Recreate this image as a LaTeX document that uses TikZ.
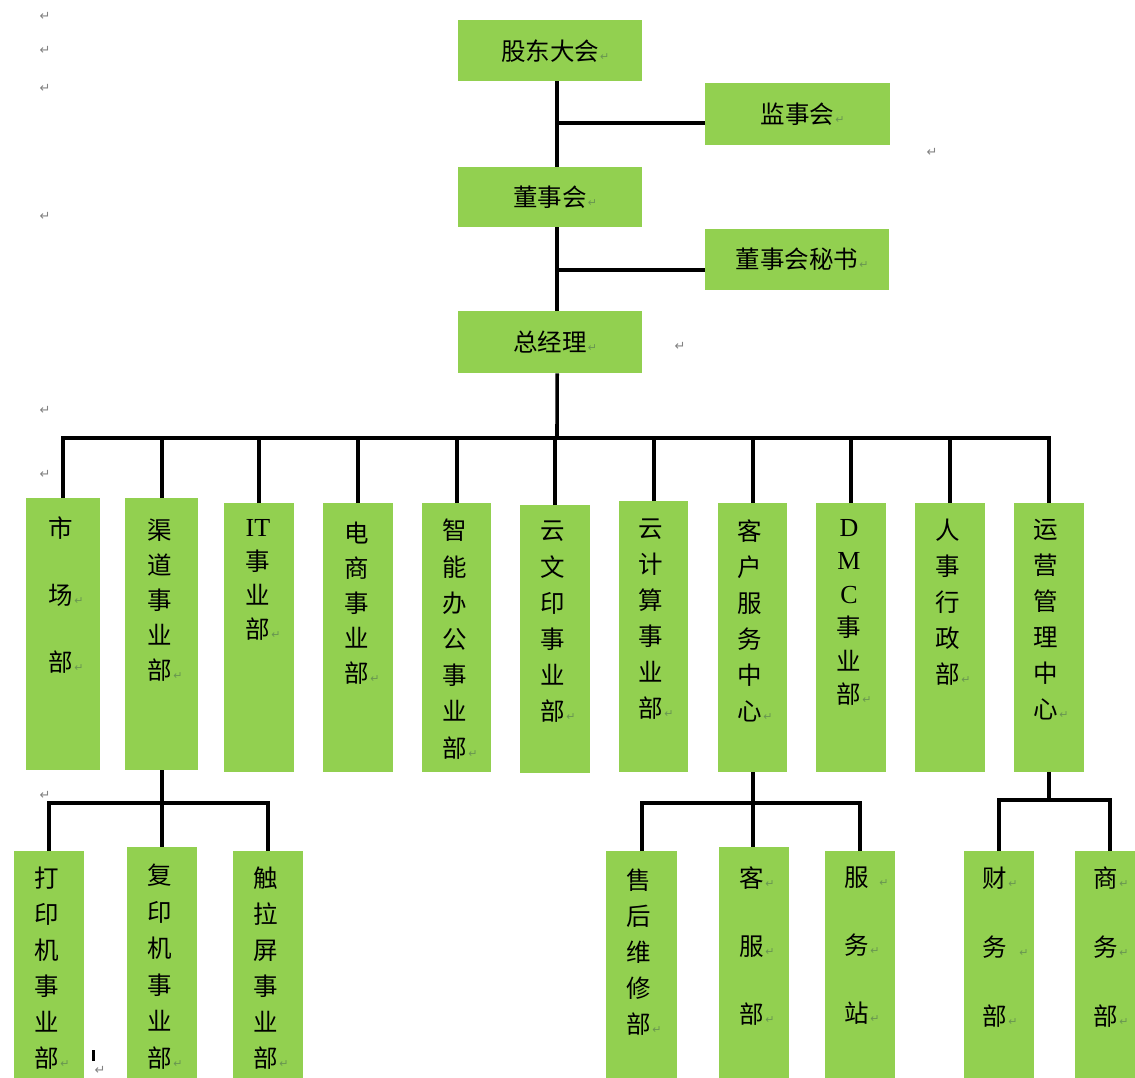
\documentclass[tikz,border=0pt]{standalone}
\usepackage{fontspec}
\setmainfont{Noto Sans CJK SC}
\newfontfamily\retfont{DejaVu Sans}
\newfontfamily\latfont{Liberation Serif}
\definecolor{boxgreen}{RGB}{146,208,80}
\definecolor{retin}{RGB}{105,150,80}
\definecolor{retgray}{RGB}{130,130,130}
\newcommand\ret{\rlap{\kern1pt{\retfont\fontsize{11}{11}\selectfont\color{retin}↵}}}
\newcommand\gbox[5]{\node[gbox, minimum width={#4-#2}, minimum height={#5-#3}] (#1) at (#2,#3) {};}
\newcommand\vlab[5]{\node[vtext, font=\fontsize{24.5}{#4}\selectfont] (#1) at (#2,#3) {#5};}
\tikzset{
  gbox/.style={fill=boxgreen, draw=none, inner sep=0pt, anchor=north west},
  tbox/.style={gbox, font=\fontsize{24.5}{28}\selectfont},
  vtext/.style={anchor=north, align=center, inner sep=0pt},
  conn/.style={line width=3.6pt, black, line join=miter},
  retm/.style={font=\retfont\fontsize{13}{13}\selectfont, text=retgray, inner sep=0pt}
}
\begin{document}
\begin{tikzpicture}[x=1pt,y=-1pt]
\useasboundingbox (0,0) rectangle (1135,1077);
\clip (0,0) rectangle (1135,1077);
\fill[white] (0,0) rectangle (1135,1077);
% top boxes
\node[tbox, minimum width=184, minimum height=61] (gd) at (458,20) {股东大会\ret};
\node[tbox, minimum width=185, minimum height=62] (jsh) at (705,83) {监事会\ret};
\node[tbox, minimum width=184, minimum height=60] (dsh) at (458,167) {董事会\ret};
\node[tbox, minimum width=184, minimum height=61] (ms) at (705,229) {董事会秘书\ret};
\node[tbox, minimum width=184, minimum height=62] (zjl) at (458,311) {总经理\ret};
% second row
\gbox{b1}{26}{498}{100}{770}
\gbox{b2}{125}{498}{198}{770}
\gbox{b3}{224}{503}{294}{772}
\gbox{b4}{323}{503}{393}{772}
\gbox{b5}{422}{503}{491}{772}
\gbox{b6}{520}{505}{590}{773}
\gbox{b7}{619}{501}{688}{772}
\gbox{b8}{718}{503}{787}{772}
\gbox{b9}{816}{503}{886}{772}
\gbox{b10}{915}{503}{985}{772}
\gbox{b11}{1014}{503}{1084}{772}
% third row
\gbox{s1}{14}{851}{84}{1100}
\gbox{s2}{127}{847}{197}{1100}
\gbox{s3}{233}{851}{303}{1100}
\gbox{s4}{606}{851}{677}{1100}
\gbox{s5}{719}{847}{789}{1100}
\gbox{s6}{825}{851}{895}{1100}
\gbox{s7}{964}{851}{1034}{1100}
\gbox{s8}{1075}{851}{1145}{1100}
% labels second row
\vlab{t1}{61}{517}{67}{市\\场\ret\\部\ret}
\vlab{t2}{160}{519}{35}{渠\\道\\事\\业\\部\ret}
\vlab{t3}{258}{519}{34}{{\latfont\fontsize{26}{26}\selectfont IT}\\事\\业\\部\ret}
\vlab{t4}{357}{522}{35}{电\\商\\事\\业\\部\ret}
\vlab{t5}{455}{519}{36.2}{智\\能\\办\\公\\事\\业\\部\ret}
\vlab{t6}{553}{521}{36.2}{云\\文\\印\\事\\业\\部\ret}
\vlab{t7}{651}{519}{36}{云\\计\\算\\事\\业\\部\ret}
\vlab{t8}{750}{519}{36}{客\\户\\服\\务\\中\\心\ret}
\vlab{t9}{849}{519}{33.5}{{\latfont\fontsize{26}{26}\selectfont D}\\{\latfont\fontsize{26}{26}\selectfont M}\\{\latfont\fontsize{26}{26}\selectfont C}\\事\\业\\部\ret}
\vlab{t10}{948}{519}{36}{人\\事\\行\\政\\部\ret}
\vlab{t11}{1046}{519}{36}{运\\营\\管\\理\\中\\心\ret}
% labels third row
\vlab{u1}{47}{867}{36}{打\\印\\机\\事\\业\\部\ret}
\vlab{u2}{160}{864}{36.5}{复\\印\\机\\事\\业\\部\ret}
\vlab{u3}{266}{867}{36}{触\\拉\\屏\\事\\业\\部\ret}
\vlab{u4}{639}{869}{36}{售\\后\\维\\修\\部\ret}
\vlab{u5}{752}{866}{68}{客\ret\\服\ret\\部\ret}
\vlab{u6}{857}{867}{68}{服\rlap{\kern10pt{\retfont\fontsize{11}{11}\selectfont\color{retin}↵}}\\务\ret\\站\ret}
\vlab{u7}{995}{867}{69}{财\ret\\务\rlap{\kern12pt{\retfont\fontsize{11}{11}\selectfont\color{retin}↵}}\\部\ret}
\vlab{u8}{1106}{867}{69}{商\ret\\务\ret\\部\ret}
% connectors top
\coordinate (mx) at ([xshift=7pt]gd.south);
\coordinate (j1) at ([yshift=-9pt]jsh.west);
\coordinate (j2) at ([yshift=-10pt]ms.west);
\draw[conn] (mx) -- (mx |- dsh.north);
\draw[conn] (mx |- dsh.south) -- (mx |- zjl.north);
\draw[conn] (j1) -- (j1 -| mx);
\draw[conn] (j2) -- (j2 -| mx);
\coordinate (bus) at (557,438);
\draw[conn] (mx |- zjl.south) -- (bus);
\draw[conn] (b1.north) -- (b1.north |- bus) -- (b11.north |- bus) -- (b11.north);
\foreach \b in {b2,b3,b4,b5,b6,b7,b8,b9,b10}{\draw[conn] (\b.north) -- (\b.north |- bus);}
% connectors bottom
\coordinate (sb1) at (0,803);
\coordinate (sb3) at (0,800);
\draw[conn] (b2.south) -- (b2.south |- s2.north);
\draw[conn] (s1.north) -- (s1.north |- sb1) -- (s3.north |- sb1) -- (s3.north);
\draw[conn] (b8.south) -- (b8.south |- s5.north);
\draw[conn] (s4.north) -- (s4.north |- sb1) -- (s6.north |- sb1) -- (s6.north);
\draw[conn] (b11.south) -- (b11.south |- sb3);
\draw[conn] (s7.north) -- (s7.north |- sb3) -- (s8.north |- sb3) -- (s8.north);
% stray paragraph marks
\node[retm] (r1) at (45,16) {↵};
\node[retm] (r2) at (45,50) {↵};
\node[retm] (r3) at (45,88) {↵};
\node[retm] (r4) at (45,216) {↵};
\node[retm] (r5) at (932,152) {↵};
\node[retm] (r6) at (680,346) {↵};
\node[retm] (r7) at (45,410) {↵};
\node[retm] (r8) at (45,474) {↵};
\node[retm] (r9) at (45,795) {↵};
\node[retm] (r10) at (100,1070) {↵};
\fill[black] (92,1050) rectangle (95,1061);
\end{tikzpicture}
\end{document}
